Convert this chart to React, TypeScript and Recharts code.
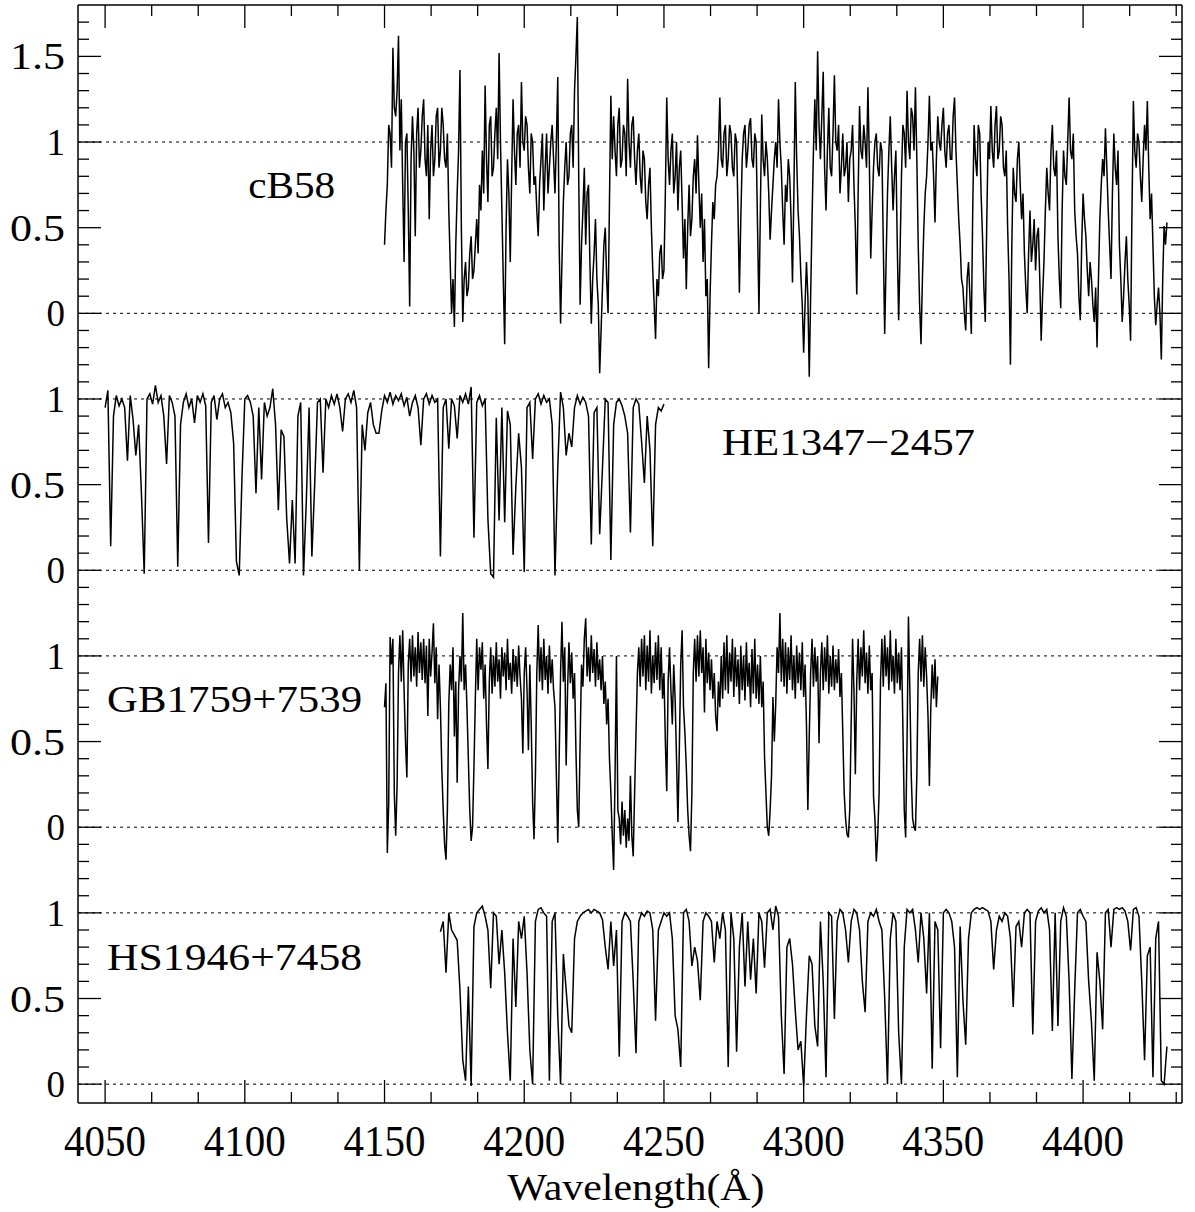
import React from 'react';
import { LineChart, Line, XAxis, YAxis, ReferenceLine, ReferenceDot, Label } from 'recharts';

// wavelength grids: start (Å) and step (Å) for each spectrum
const CB58_START = 4150;
const CB58_STEP = 0.5;
const HE1347_START = 4050;
const HE1347_STEP = 1;
const GB1759_START = 4150;
const GB1759_STEP = 0.5;
const HS1946_START = 4170;
const HS1946_STEP = 1;

// normalised flux
const cb58Flux = [
  0.40, 0.60, 0.75, 1.10, 1.05, 0.85, 1.55, 1.20, 1.15, 1.30,
  1.62, 0.95, 1.25, 0.75, 0.30, 1.00, 1.05, 0.60, 0.04, 0.90,
  1.15, 0.95, 0.45, 1.05, 1.20, 0.85, 0.95, 1.15, 1.25, 0.90,
  0.80, 1.10, 0.55, 0.95, 1.10, 0.80, 0.90, 1.15, 1.20, 0.85,
  0.95, 1.20, 1.10, 0.90, 0.85, 1.05, 0.60, 0.30, 0.00, 0.20,
  -0.08, 0.40, 0.70, 0.95, 1.42, 0.50, -0.05, 0.20, 0.30, 0.10,
  0.15, 0.35, 0.45, 0.20, 0.25, 0.40, 0.55, 0.35, 0.75, 0.60,
  0.95, 0.70, 1.33, 0.90, 0.65, 1.10, 1.15, 0.80, 0.85, 1.05,
  1.20, 0.90, 1.52, 1.00, 0.60, 0.20, -0.18, 0.50, 0.90, 0.70,
  0.30, 0.80, 1.25, 0.95, 0.75, 1.05, 1.10, 0.85, 1.35, 1.00,
  0.95, 1.15, 1.10, 0.85, 0.70, 1.05, 1.00, 0.75, 0.80, 0.60,
  0.45, 0.75, 0.90, 1.05, 0.60, 0.85, 1.05, 0.70, 0.85, 1.00,
  1.10, 0.90, 0.70, 1.00, 1.38, 0.40, -0.06, 0.30, 0.65, 0.85,
  1.00, 0.75, 0.80, 1.05, 1.10, 0.85, 1.30, 1.50, 1.73, 0.80,
  0.05, 0.40, 0.60, 0.85, 0.40, 0.70, 0.75, 0.30, -0.06, 0.20,
  0.35, 0.55, 0.20, 0.05, -0.35, -0.10, 0.15, 0.40, 0.50, 0.20,
  0.00, 0.65, 1.27, 0.90, 1.15, 0.95, 0.80, 1.10, 1.20, 0.85,
  0.90, 1.10, 1.05, 0.80, 1.37, 1.00, 0.85, 1.10, 1.15, 0.90,
  0.75, 0.95, 1.05, 0.80, 0.70, 0.95, 0.90, 0.65, 0.55, 0.75,
  0.85, 0.50, 0.25, 0.05, -0.15, 0.20, 0.10, 0.35, 0.40, 0.20,
  0.25, 0.70, 1.26, 0.90, 0.75, 0.95, 1.05, 0.70, 0.80, 1.00,
  0.60, 0.85, 0.95, 0.65, 0.32, 0.55, 0.14, 0.50, 0.75, 0.45,
  0.55, 0.80, 0.90, 0.70, 1.04, 0.75, 0.50, 0.70, 0.30, 0.55,
  0.10, 0.20, -0.32, 0.10, 0.40, 0.65, 0.55, 0.75, 0.80, 0.95,
  1.26, 0.90, 0.85, 1.05, 1.10, 0.80, 0.90, 1.10, 1.05, 0.85,
  0.80, 1.05, 1.00, 0.60, 0.12, 0.55, 0.90, 1.05, 1.10, 0.85,
  0.95, 1.10, 1.14, 0.90, 0.85, 1.05, 1.00, 0.50, 0.00, 0.60,
  1.16, 0.90, 0.80, 1.00, 0.90, 0.70, 0.43, 0.60, 0.75, 0.90,
  1.00, 0.85, 1.25, 1.00, 0.85, 0.60, 0.40, 0.75, 0.65, 0.90,
  0.80, 0.55, 0.18, 0.70, 1.35, 0.90, 0.60, 0.45, 0.22, 0.05,
  -0.23, 0.05, 0.30, 0.10, -0.37, 0.10, 0.55, 0.95, 1.25, 0.95,
  1.53, 1.10, 0.90, 1.15, 1.41, 0.85, 0.60, 0.95, 1.20, 0.85,
  0.80, 1.05, 1.39, 1.00, 0.95, 1.10, 0.70, 0.85, 1.05, 0.80,
  0.85, 1.00, 0.65, 0.90, 0.95, 1.10, 0.75, 0.50, 0.11, 0.70,
  1.21, 0.95, 0.90, 1.10, 1.00, 0.85, 1.32, 0.90, 0.32, 0.60,
  0.85, 1.00, 1.05, 0.85, 0.80, 1.00, 0.95, 0.40, -0.12, 0.30,
  0.70, 0.95, 1.15, 0.85, 0.60, 0.80, 0.95, 0.40, -0.04, 0.35,
  0.80, 1.10, 1.05, 0.85, 1.30, 1.00, 0.90, 1.20, 1.15, 0.95,
  1.32, 0.90, 0.40, 0.05, -0.18, 0.20, 0.50, 0.70, 0.80, 1.00,
  1.27, 0.95, 1.00, 0.80, 0.53, 0.90, 1.15, 1.00, 0.95, 1.10,
  1.20, 0.95, 0.85, 1.05, 1.10, 0.90, 0.90, 1.15, 1.26, 0.95,
  0.75, 0.55, 0.40, 0.20, 0.15, 0.00, -0.10, 0.20, 0.30, 0.10,
  -0.12, 0.60, 1.10, 0.90, 0.80, 1.10, 1.05, 0.70, 0.45, 0.15,
  -0.05, 0.50, 1.00, 0.90, 1.21, 0.95, 0.85, 1.10, 1.21, 0.90,
  0.95, 1.15, 1.10, 0.85, 0.80, 0.95, 0.50, 0.20, -0.30, 0.40,
  0.85, 0.70, 0.65, 0.90, 1.00, 0.75, 0.55, 0.70, 0.35, 0.15,
  0.00, 0.35, 0.60, 0.30, 0.40, 0.55, 0.25, 0.45, 0.50, 0.20,
  -0.16, 0.10, 0.30, 0.60, 0.85, 0.70, 0.60, 0.95, 1.10, 0.85,
  0.80, 0.95, 0.45, 0.20, 0.03, 0.60, 0.95, 0.80, 0.75, 1.00,
  1.26, 0.95, 0.90, 1.05, 0.60, 0.45, 0.35, 0.10, -0.04, 0.40,
  0.70, 0.55, 0.45, 0.25, 0.10, 0.30, 0.20, 0.05, -0.05, 0.15,
  -0.20, 0.20, 0.55, 0.75, 0.90, 0.80, 1.08, 0.85, 0.60, 0.40,
  0.20, 0.70, 1.05, 0.85, 0.75, 0.95, 0.40, 0.20, -0.05, 0.10,
  0.30, 0.45, 0.20, 0.05, -0.16, 0.60, 1.24, 0.95, 0.85, 1.05,
  1.00, 0.80, 0.65, 0.90, 1.10, 0.95, 1.24, 0.85, 0.55, 0.70,
  0.40, 0.10, -0.07, 0.05, 0.15, 0.00, -0.27, 0.20, 0.51, 0.40,
  0.53,
];

const he1347Flux = [
  0.95, 1.05, 0.14, 0.90, 1.02, 0.96, 1.00, 0.95, 0.64, 1.02,
  0.88, 0.67, 0.85, 0.45, -0.02, 1.00, 1.03, 0.97, 1.08, 0.98,
  1.02, 0.90, 0.62, 1.02, 0.98, 0.90, 0.02, 0.85, 0.98, 1.03,
  0.95, 1.00, 0.86, 1.02, 0.98, 1.03, 0.96, 0.16, 0.98, 1.02,
  0.88, 1.00, 1.03, 0.95, 0.98, 0.92, 0.74, 0.05, -0.03, 0.55,
  1.00, 1.02, 0.98, 0.90, 0.45, 0.95, 0.53, 0.98, 0.90, 0.95,
  1.06, 0.85, 0.35, 0.82, 0.78, 0.30, 0.04, 0.41, 0.04, 0.90,
  0.98, -0.03, 0.40, 0.95, 0.08, 0.50, 0.98, 1.00, 0.57, 1.00,
  0.95, 1.02, 0.97, 1.03, 0.95, 0.81, 1.00, 1.03, 0.98, 1.05,
  0.95, 0.00, 0.85, 0.70, 0.92, 0.98, 0.85, 0.80, 0.80, 0.93,
  1.02, 0.98, 1.04, 0.97, 1.02, 0.99, 1.03, 0.96, 1.01, 0.90,
  0.98, 1.02, 0.95, 0.73, 1.00, 1.03, 0.97, 1.02, 0.98, 1.00,
  0.08, 0.95, 1.00, 0.71, 1.00, 0.96, 0.77, 1.02, 0.98, 1.03,
  0.97, 1.07, 0.19, 0.98, 1.02, 0.96, 1.00, 0.30, -0.02, -0.04,
  0.89, 0.29, 0.95, 0.28, 0.93, 0.85, 0.09, 0.49, 0.80, 0.60,
  -0.01, 0.95, 0.98, 0.65, 1.00, 1.03, 0.97, 1.02, 0.98, 1.00,
  0.85, -0.03, 0.60, 1.04, 0.95, 0.67, 0.80, 0.72, 0.95, 1.02,
  0.97, 1.01, 0.98, 0.90, 0.15, 0.92, 0.95, 0.21, 0.60, 1.00,
  0.98, 0.06, 0.85, 0.98, 1.00, 0.96, 0.90, 0.80, 0.22, 0.95,
  1.00, 0.97, 0.75, 0.51, 0.90, 0.70, 0.14, 0.85, 0.95, 0.93,
  0.97,
];

const gb1759Flux = [
  0.70, 0.84, -0.15, 0.14, 1.11, 0.95, 1.10, 0.20, -0.05, 0.25,
  0.90, 1.12, 0.85, 1.15, 0.80, 0.50, 0.29, 0.95, 1.10, 0.85,
  1.12, 0.88, 1.05, 0.82, 1.14, 0.90, 1.08, 0.86, 1.10, 0.84,
  1.06, 0.65, 1.10, 0.88, 1.02, 1.19, 0.84, 1.05, 0.63, 0.95,
  0.70, 0.34, 0.10, -0.10, -0.19, 0.10, 0.72, 0.95, 0.80, 1.05,
  0.53, 0.85, 0.26, 0.80, 1.00, 0.85, 1.25, 0.80, 0.95, 0.70,
  0.40, 0.10, -0.08, 0.00, 0.35, 0.75, 1.10, 0.80, 1.05, 0.92,
  1.08, 0.75, 0.95, 0.60, 0.34, 0.85, 1.05, 0.78, 1.00, 0.82,
  1.08, 0.85, 0.98, 0.75, 1.05, 0.88, 1.02, 0.80, 1.10, 0.86,
  0.96, 0.78, 1.04, 0.85, 1.00, 0.82, 1.06, 0.88, 0.75, 0.43,
  0.90, 1.05, 0.80, 0.45, 0.95, 0.60, 0.15, -0.07, 0.30, 0.90,
  1.18, 0.85, 1.05, 0.80, 1.10, 0.86, 1.00, 0.78, 1.06, 0.84,
  0.98, 0.80, 0.70, 0.30, -0.09, 0.40, 0.90, 1.20, 0.85, 1.05,
  0.36, 0.80, 1.08, 0.84, 1.02, 0.75, 0.90, 0.45, 0.10, 0.00,
  0.50, 0.95, 0.82, 1.10, 1.22, 0.88, 1.05, 0.85, 1.12, 0.90,
  1.04, 0.82, 1.08, 0.86, 0.98, 0.80, 1.00, 0.72, 0.85, 0.60,
  0.75, 0.40, 0.20, -0.05, -0.25, 0.30, 1.00, 0.10, 0.05, -0.10,
  0.15, -0.05, 0.10, -0.12, 0.05, -0.08, 0.30, -0.05, -0.17, 0.20,
  0.55, 0.90, 1.05, 0.82, 1.10, 0.88, 1.12, 0.80, 1.06, 0.85,
  1.15, 0.78, 1.00, 0.84, 1.08, 0.86, 1.12, 0.80, 1.05, 0.75,
  0.90, 0.50, 0.21, 0.85, 1.05, 0.80, 0.60, 0.95, 0.75, 0.40,
  0.03, 0.45, 0.95, 1.15, 0.70, 0.55, 0.35, 0.10, -0.05, -0.14,
  0.20, 0.90, 1.10, 0.85, 1.12, 0.88, 1.15, 0.90, 1.05, 0.67,
  1.10, 0.84, 1.02, 0.80, 0.98, 0.75, 0.90, 0.65, 0.56, 0.85,
  0.70, 1.00, 0.75, 1.08, 0.80, 1.12, 0.78, 1.02, 0.85, 1.10,
  0.76, 1.05, 0.82, 0.98, 0.72, 1.06, 0.80, 1.00, 0.74, 1.08,
  0.82, 0.96, 0.70, 1.04, 0.78, 1.10, 0.75, 0.95, 0.72, 1.00,
  0.70, 0.85, 0.41, 0.20, 0.00, -0.05, 0.10, 0.30, 0.76, 0.50,
  0.72, 1.05, 0.90, 1.25, 0.85, 1.10, 0.82, 1.08, 0.78, 1.05,
  0.86, 1.12, 0.80, 1.00, 0.75, 1.06, 0.84, 1.02, 0.80, 1.08,
  0.76, 0.95, 0.60, 0.10, 0.53, 0.90, 1.10, 0.82, 1.05, 0.85,
  1.00, 0.49, 0.90, 1.08, 0.80, 1.05, 0.85, 1.12, 0.78, 1.00,
  0.82, 1.06, 0.80, 0.98, 0.84, 1.04, 0.76, 0.90, 0.55, 0.20,
  0.05, -0.04, -0.06, 0.10, 0.60, 1.10, 0.80, 0.31, 0.85, 1.10,
  0.80, 1.05, 0.88, 1.15, 0.84, 1.02, 0.78, 1.06, 0.80, 0.90,
  0.18, 0.05, -0.20, -0.05, 0.20, 0.85, 1.10, 0.82, 1.12, 0.88,
  1.05, 0.80, 1.15, 0.85, 1.00, 0.78, 1.10, 0.84, 1.02, 0.80,
  1.05, 0.60, 0.10, -0.06, 0.50, 1.23, 0.80, 0.30, 0.05, 0.00,
  -0.02, 0.30, 0.90, 1.10, 0.85, 1.12, 0.82, 1.05, 0.88, 0.65,
  0.24, 0.70, 0.95, 0.75, 0.98, 0.70, 0.88,
];

const hs1946Flux = [
  0.89, 0.95, 0.65, 1.00, 0.90, 0.87, 0.84, 0.55, 0.14, 0.02,
  0.57, -0.01, 0.92, 1.00, 1.02, 1.04, 0.98, 0.90, 0.56, 1.00,
  0.98, 0.70, 0.90, 0.65, 0.30, 0.02, 0.85, 0.45, 0.95, 0.85,
  0.98, 0.65, 0.20, 0.00, 0.95, 1.02, 1.03, 1.00, 0.98, 0.02,
  0.95, 1.00, 0.40, 0.00, 0.76, 0.55, 0.34, 0.30, 0.85, 0.95,
  0.98, 1.00, 1.01, 1.02, 1.00, 1.02, 1.01, 1.00, 0.96, 0.80,
  0.67, 0.95, 0.69, 0.90, 0.16, 0.95, 1.00, 0.98, 0.95, 0.60,
  0.18, 0.95, 1.00, 0.98, 1.01, 1.00, 0.90, 0.37, 0.90, 0.95,
  1.00, 0.98, 1.00, 0.85, 0.40, 0.32, 0.10, 1.00, 1.02, 0.95,
  0.69, 0.80, 0.72, 0.49, 0.95, 1.00, 0.98, 0.95, 0.71, 0.95,
  0.85, 1.00, 0.90, 0.10, 1.00, 0.85, 0.19, 0.80, 1.00, 0.57,
  0.95, 0.61, 0.85, 0.53, 1.00, 0.95, 0.68, 1.00, 1.02, 0.90,
  1.04, 0.98, 0.40, 0.06, 0.80, 0.85, 0.70, 0.43, 0.20, 0.25,
  -0.01, 0.40, 0.75, 0.70, 0.34, 0.22, 0.95, 0.60, 0.04, 1.00,
  0.98, 0.38, 0.95, 1.02, 1.00, 0.90, 0.71, 0.95, 1.02, 1.00,
  0.90, 0.60, 0.42, 0.95, 1.00, 0.98, 1.02, 0.95, 0.90, 0.50,
  0.00, 0.85, 1.00, 0.95, 0.30, 0.00, 0.80, 1.02, 1.00, 1.02,
  0.90, 0.71, 1.00, 0.85, 0.53, 1.00, 0.09, 0.95, 0.90, 0.21,
  1.00, 1.02, 1.00, 0.95, 0.80, 0.04, 0.92, 0.49, 0.23, 0.85,
  1.00, 1.02, 1.03, 1.02, 1.03, 1.02, 1.01, 0.95, 0.67, 0.90,
  0.98, 0.95, 1.00, 0.98, 0.85, 0.45, 0.92, 0.95, 0.80, 1.00,
  1.02, 1.00, 0.29, 0.95, 1.01, 1.03, 1.00, 1.02, 0.90, 0.31,
  1.00, 0.34, 0.95, 1.03, 0.98, 0.60, 0.03, 0.55, 1.00, 1.02,
  0.98, 0.95, 0.60, 0.36, 0.02, 0.77, 0.60, 0.32, 1.00, 1.02,
  0.80, 1.02, 1.03, 1.02, 1.03, 1.01, 0.95, 0.78, 1.02, 1.03,
  0.98, 0.60, 0.14, 0.75, 0.80, 0.04, 0.85, 0.95, 0.02, 0.00,
  0.22,
];

// vertical offsets of the stacked panels
const CB58_OFFSET = 4.5;
const HE1347_OFFSET = 3;
const GB1759_OFFSET = 1.5;
const HS1946_OFFSET = 0;

const xTicks = [
  4050, 4066.67, 4083.33, 4100, 4116.67, 4133.33, 4150, 4166.67, 4183.33, 4200,
  4216.67, 4233.33, 4250, 4266.67, 4283.33, 4300, 4316.67, 4333.33, 4350, 4366.67,
  4383.33, 4400, 4416.67, 4433.33,
];
const xMajor = [4050, 4100, 4150, 4200, 4250, 4300, 4350, 4400];

const yTicks = [
  0, 0.1, 0.2, 0.3, 0.4, 0.5, 0.6, 0.7, 0.8, 0.9, 1, 1.1, 1.2, 1.3, 1.4, 1.5,
  1.6, 1.7, 1.8, 1.9, 2, 2.1, 2.2, 2.3, 2.4, 2.5, 2.6, 2.7, 2.8, 2.9, 3, 3.1,
  3.2, 3.3, 3.4, 3.5, 3.6, 3.7, 3.8, 3.9, 4, 4.1, 4.2, 4.3, 4.4, 4.5, 4.6, 4.7,
  4.8, 4.9, 5, 5.1, 5.2, 5.3, 5.4, 5.5, 5.6, 5.7, 5.8, 5.9, 6, 6.1, 6.2,
];
const yMajor = [0, 0.5, 1, 1.5, 2, 2.5, 3, 3.5, 4, 4.5, 5, 5.5, 6];
const yMajorLabels = ['0', '0.5', '1', '0', '0.5', '1', '0', '0.5', '1', '0', '0.5', '1', '1.5'];

// dotted continuum / zero levels
const refLevels = [0, 1, 1.5, 2.5, 3, 4, 4.5, 5.5];

const objectNames = ['cB58', 'HE1347\u22122457', 'GB1759+7539', 'HS1946+7458'];
const nameWl = [4101.2, 4270.8, 4050.7, 4050.7];
const nameY = [5.172, 3.672, 2.172, 0.665];
const nameWidth = [87, 253, 255, 255];

const toSeries = (start: number, step: number, flux: number[], offset: number) =>
  flux.map((f, i) => ({ wl: start + i * step, flux: f + offset }));

const cb58Data = toSeries(CB58_START, CB58_STEP, cb58Flux, CB58_OFFSET);
const he1347Data = toSeries(HE1347_START, HE1347_STEP, he1347Flux, HE1347_OFFSET);
const gb1759Data = toSeries(GB1759_START, GB1759_STEP, gb1759Flux, GB1759_OFFSET);
const hs1946Data = toSeries(HS1946_START, HS1946_STEP, hs1946Flux, HS1946_OFFSET);

const FONT = '"Liberation Serif", "DejaVu Serif", serif';
const MAJOR = 23;
const MINOR = 11;
const isXMajor = (v: number) => xMajor.some((m) => Math.abs(m - v) < 1e-6);
const yMajorIndex = (v: number) => yMajor.findIndex((m) => Math.abs(m - v) < 1e-6);

const BottomTick = ({ x, y, payload }: any) => {
  const major = isXMajor(payload.value);
  return (
    <g>
      <line x1={x} x2={x} y1={y} y2={y - (major ? MAJOR : MINOR)} stroke="#000" strokeWidth={1.3} />
      {major && (
        <text x={x} y={y + 53} textAnchor="middle" fontFamily={FONT} fontSize={44}
          textLength={82} lengthAdjust="spacingAndGlyphs" fill="#000">
          {payload.value}
        </text>
      )}
    </g>
  );
};

const TopTick = ({ x, y, payload }: any) => {
  const major = isXMajor(payload.value);
  return <line x1={x} x2={x} y1={y} y2={y + (major ? MAJOR : MINOR)} stroke="#000" strokeWidth={1.3} />;
};

const LeftTick = ({ x, y, payload }: any) => {
  const idx = yMajorIndex(payload.value);
  const major = idx >= 0;
  const label = major ? yMajorLabels[idx] : '';
  return (
    <g>
      <line x1={x} x2={x + (major ? MAJOR : MINOR)} y1={y} y2={y} stroke="#000" strokeWidth={1.3} />
      {major && (
        <text x={x - 13} y={y + 13} textAnchor="end" fontFamily={FONT} fontSize={37} fill="#000"
          {...(label.length > 1 ? { textLength: 55, lengthAdjust: 'spacingAndGlyphs' } : {})}>
          {label}
        </text>
      )}
    </g>
  );
};

const RightTick = ({ x, y, payload }: any) => {
  const major = yMajorIndex(payload.value) >= 0;
  return <line x1={x} x2={x - (major ? MAJOR : MINOR)} y1={y} y2={y} stroke="#000" strokeWidth={1.3} />;
};

const AxisTitle = ({ viewBox }: any) => (
  <text x={viewBox.x + viewBox.width / 2 + 6} y={viewBox.y + 97} textAnchor="middle" fontFamily={FONT}
    fontSize={38} textLength={257} lengthAdjust="spacingAndGlyphs" fill="#000">
    Wavelength(Å)
  </text>
);

const axisLine = { stroke: '#000', strokeWidth: 1.5 };

export default function App() {
  const series = [cb58Data, he1347Data, gb1759Data, hs1946Data];
  return (
    <div style={{ position: 'absolute', left: 0, top: 0, background: '#fff' }}>
      <LineChart width={1195} height={1212} margin={{ top: 4, right: 12, bottom: 108, left: 0 }}>
        <XAxis xAxisId="b" type="number" dataKey="wl" domain={[4040.3, 4435.4]} allowDataOverflow
          ticks={xTicks} interval={0} tick={BottomTick} tickLine={false} tickSize={0} tickMargin={0}
          height={1} axisLine={axisLine}>
          <Label content={AxisTitle} />
        </XAxis>
        <XAxis xAxisId="t" orientation="top" type="number" dataKey="wl" domain={[4040.3, 4435.4]}
          allowDataOverflow ticks={xTicks} interval={0} tick={TopTick} tickLine={false} tickSize={0}
          tickMargin={0} height={1} axisLine={axisLine} />
        <YAxis yAxisId="l" type="number" domain={[-0.11, 6.3]} allowDataOverflow ticks={yTicks}
          interval={0} tick={LeftTick} tickLine={false} tickSize={0} tickMargin={0} width={78}
          axisLine={axisLine} />
        <YAxis yAxisId="r" orientation="right" type="number" domain={[-0.11, 6.3]} allowDataOverflow
          ticks={yTicks} interval={0} tick={RightTick} tickLine={false} tickSize={0} tickMargin={0}
          width={1} axisLine={axisLine} />
        {refLevels.map((lv) => (
          <ReferenceLine key={lv} xAxisId="b" yAxisId="l" y={lv} stroke="#000" strokeWidth={1}
            strokeDasharray="3 4" />
        ))}
        {series.map((d, i) => (
          <Line key={objectNames[i]} xAxisId="b" yAxisId="l" data={d} dataKey="flux" type="linear"
            stroke="#000" strokeWidth={1.5} dot={false} activeDot={false} isAnimationActive={false} />
        ))}
        {objectNames.map((name, i) => (
          <ReferenceDot key={name} xAxisId="b" yAxisId="l" x={nameWl[i]} y={nameY[i]} r={0}
            shape={(p: any) => (
              <text x={p.cx} y={p.cy} fontFamily={FONT} fontSize={38} textLength={nameWidth[i]}
                lengthAdjust="spacingAndGlyphs" fill="#000">
                {name}
              </text>
            )} />
        ))}
      </LineChart>
    </div>
  );
}
